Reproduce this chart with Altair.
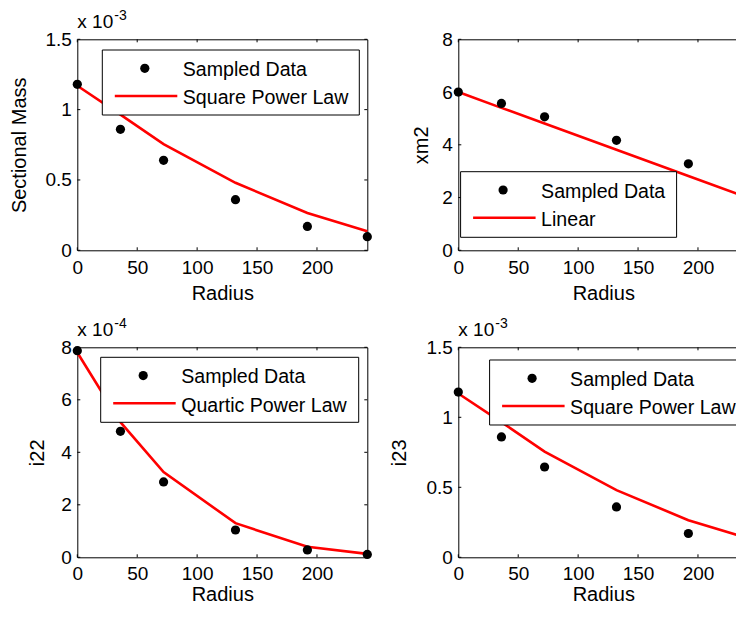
import altair as alt
import pandas as pd

# ---------------- data ----------------
radius = [0, 36, 72, 132, 192, 242]

# Sectional Mass (x 10^-3)
sect_mass_data = [1.18, 0.86, 0.64, 0.36, 0.17, 0.097]
sect_mass_fit = [1.17, 0.965, 0.755, 0.48, 0.265, 0.135]

# xm2
xm2_data = [6.0, 5.57, 5.06, 4.17, 3.28, 2.62]
xm2_fit = [6.0, 5.40, 4.81, 3.81, 2.82, 1.99]

# i22 (x 10^-4)
i22_data = [7.87, 4.80, 2.87, 1.04, 0.28, 0.11]
i22_fit = [7.8, 5.15, 3.25, 1.3, 0.4, 0.13]

# i23 (x 10^-3)
i23_data = [1.18, 0.86, 0.645, 0.36, 0.17, 0.10]
i23_fit = [1.17, 0.965, 0.755, 0.48, 0.265, 0.135]

x_ticks = [0, 50, 100, 150, 200]
y_ticks_15 = [0, 0.5, 1, 1.5]
y_ticks_8 = [0, 2, 4, 6, 8]

data_label = "Sampled Data"
fit_labels = ["Square Power Law", "Linear", "Quartic Power Law", "Square Power Law"]
y_titles = ["Sectional Mass", "xm2", "i22", "i23"]
exponents = ["-3", None, "-4", "-3"]

# ---------------- styling ----------------
W = 290
H_TOP, H_BOT = 211, 210
FONT = "Liberation Sans"
TICK = 3
X_MAX = 242
PAD_L, PAD_T = 69.3, 31.3          # plot origin of the first panel
PAGE_W, PAGE_H = 728, 596          # drawing size that fits the page body
LEG_FS = 19.6


def panel(ytitle, pts, fit, fit_label, ymax, yticks, yfmt, exponent,
          legend_box, title_pad, H, x_label_pad, x_title_pad):
    xs = alt.Scale(domain=[0, X_MAX], nice=False, zero=False)
    ys = alt.Scale(domain=[0, ymax], nice=False, zero=False)

    x_axis = alt.Axis(values=x_ticks, title="Radius", ticks=False, tickSize=0,
                      domain=False, grid=False, labelFontSize=19,
                      labelPadding=x_label_pad, labelColor="black",
                      labelFont=FONT, titleFont=FONT, titleFontSize=20,
                      titleFontWeight="normal", titleColor="black",
                      titlePadding=x_title_pad, labelFlush=False)
    y_axis = alt.Axis(values=yticks, title=ytitle, ticks=False, tickSize=0,
                      domain=False, grid=False, format=yfmt, labelFontSize=19,
                      labelPadding=6, labelColor="black", labelFont=FONT,
                      titleFont=FONT, titleFontSize=20, titleFontWeight="normal",
                      titleColor="black", titlePadding=title_pad,
                      labelFlush=False)
    X = alt.X("Radius:Q", scale=xs, axis=x_axis)
    Y = alt.Y("value:Q", scale=ys, axis=y_axis)

    df_fit = pd.DataFrame({"Radius": radius, "value": fit})
    df_pts = pd.DataFrame({"Radius": radius, "value": pts})

    line = alt.Chart(df_fit).mark_line(color="#ff0000", strokeWidth=2.6).encode(
        x=X, y=Y)
    dots = alt.Chart(df_pts).mark_point(
        filled=True, shape="circle", size=85, color="black", opacity=1
    ).encode(x=X, y=Y)

    # inward MATLAB-style ticks on all four sides
    df_xt = pd.DataFrame({"Radius": x_ticks})
    df_yt = pd.DataFrame({"value": yticks})
    tick_style = dict(color="black", strokeWidth=1)
    xt_bottom = alt.Chart(df_xt).mark_rule(**tick_style).encode(
        x=X, y=alt.value(H), y2=alt.value(H - TICK))
    xt_top = alt.Chart(df_xt).mark_rule(**tick_style).encode(
        x=X, y=alt.value(0), y2=alt.value(TICK))
    yt_left = alt.Chart(df_yt).mark_rule(**tick_style).encode(
        y=Y, x=alt.value(0), x2=alt.value(TICK))
    yt_right = alt.Chart(df_yt).mark_rule(**tick_style).encode(
        y=Y, x=alt.value(W - TICK), x2=alt.value(W))

    layers = [line, dots, xt_bottom, xt_top, yt_left, yt_right]

    # legend box (drawn manually to mimic the MATLAB boxed legend)
    x0, y0, x1, y1 = legend_box
    df_leg = pd.DataFrame({"label": [data_label, fit_label]})
    one = pd.DataFrame({"k": [0]})
    box = alt.Chart(one).mark_rect(fill="white", stroke="black",
                                   strokeWidth=1).encode(
        x=alt.value(x0), x2=alt.value(x1), y=alt.value(y0), y2=alt.value(y1))
    leg_dot = alt.Chart(one).mark_point(
        filled=True, shape="circle", size=85, color="black", opacity=1
    ).encode(x=alt.value(x0 + 42.5), y=alt.value(y0 + 18.3))
    leg_line = alt.Chart(one).mark_rule(color="#ff0000", strokeWidth=2.6).encode(
        x=alt.value(x0 + 12.5), x2=alt.value(x0 + 75), y=alt.value(y0 + 46))
    leg_t1 = alt.Chart(df_leg.iloc[[0]]).mark_text(
        align="left", baseline="alphabetic", font=FONT, fontSize=LEG_FS,
        color="black").encode(x=alt.value(x0 + 80.5), y=alt.value(y0 + 26),
                              text="label:N")
    leg_t2 = alt.Chart(df_leg.iloc[[1]]).mark_text(
        align="left", baseline="alphabetic", font=FONT, fontSize=LEG_FS,
        color="black").encode(x=alt.value(x0 + 80.5), y=alt.value(y0 + 54.3),
                              text="label:N")
    layers += [box, leg_dot, leg_line, leg_t1, leg_t2]

    if exponent is not None:
        df_e = pd.DataFrame({"base": ["x 10"], "exp": [exponent]})
        e1 = alt.Chart(df_e).mark_text(
            align="left", baseline="alphabetic", font=FONT, fontSize=19,
            color="black").encode(x=alt.value(0), y=alt.value(-11),
                                  text="base:N")
        e2 = alt.Chart(df_e).mark_text(
            align="left", baseline="alphabetic", font=FONT, fontSize=14,
            color="black").encode(x=alt.value(37), y=alt.value(-19),
                                  text="exp:N")
        layers += [e1, e2]

    return alt.layer(*layers).properties(width=W, height=H)


p1 = panel(y_titles[0], sect_mass_data, sect_mass_fit, fit_labels[0], 1.5,
           y_ticks_15, ".1~f", exponents[0], (25, 10.7, 282, 75.7), 15,
           H_TOP, 8, 6)
p2 = panel(y_titles[1], xm2_data, xm2_fit, fit_labels[1], 8,
           y_ticks_8, "d", exponents[1], (2.3, 132.4, 218.3, 198), 10.5,
           H_TOP, 8, 6)
p3 = panel(y_titles[2], i22_data, i22_fit, fit_labels[2], 8,
           y_ticks_8, "d", exponents[2], (23.4, 10, 281.4, 75), 13.5,
           H_BOT, 7, 1)
p4 = panel(y_titles[3], i23_data, i23_fit, fit_labels[3], 1.5,
           y_ticks_15, ".1~f", exponents[3], (31.3, 12.7, 288.3, 77.7), 16.5,
           H_BOT, 7, 1)

chart = alt.concat(
    p1, p2, p3, p4, columns=2, spacing={"row": 97, "column": 91}, bounds="flush"
).resolve_scale(
    x="independent", y="independent"
).properties(
    autosize=alt.AutoSizeParams(type="none"),
    padding={"left": PAD_L, "top": PAD_T,
             "right": PAGE_W - PAD_L, "bottom": PAGE_H - PAD_T},
).configure(
    font=FONT, background="white"
).configure_view(
    stroke="black", strokeWidth=1
)

chart.save("out.html", embed_options={"renderer": "svg", "actions": False})
